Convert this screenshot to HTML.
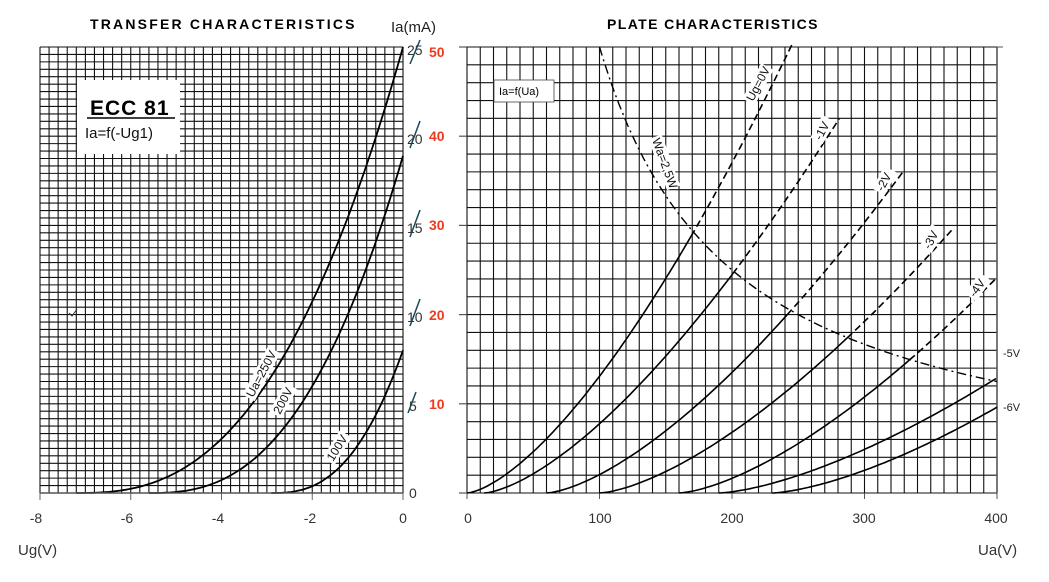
<!DOCTYPE html>
<html><head><meta charset="utf-8"><style>
body{margin:0;background:#fff;width:1049px;height:582px;overflow:hidden}
svg{display:block}
text{font-family:"Liberation Sans",sans-serif}
</style></head><body>
<svg id="s" width="1049" height="582" xmlns="http://www.w3.org/2000/svg">
<g id="g"></g>
<text x="90" y="29" font-size="14" font-weight="bold" letter-spacing="2.2">TRANSFER CHARACTERISTICS</text>
<text x="391" y="32" font-size="15" fill="#222">Ia(mA)</text>
<text x="607" y="29" font-size="14" font-weight="bold" letter-spacing="1.4">PLATE CHARACTERISTICS</text>
<rect x="77" y="80" width="103" height="74" fill="#fff"/>
<text x="90" y="115" font-size="21" font-weight="bold" letter-spacing="1">ECC 81</text>
<line x1="87" y1="118" x2="175" y2="118" stroke="#000" stroke-width="1.5"/>
<text x="85" y="138" font-size="15" fill="#111">Ia=f(-Ug1)</text>
<rect x="494" y="80" width="60" height="22" fill="#fff" stroke="#444" stroke-width="0.8"/>
<text x="499" y="95" font-size="11">Ia=f(Ua)</text>
<path d="M69,313 L72,316 L77,309" fill="none" stroke="#333" stroke-width="1"/>
<g font-size="14" fill="#333" text-anchor="middle">
<text x="36" y="523">-8</text><text x="127" y="523">-6</text><text x="218" y="523">-4</text><text x="310" y="523">-2</text><text x="403" y="523">0</text>
<text x="468" y="523">0</text><text x="600" y="523">100</text><text x="732" y="523">200</text><text x="864" y="523">300</text><text x="996" y="523">400</text>
</g>
<text x="18" y="555" font-size="15" fill="#333">Ug(V)</text>
<text x="978" y="555" font-size="15" fill="#333">Ua(V)</text>
<g font-size="14" fill="#333">
<text x="407" y="55">25</text><text x="407" y="144">20</text><text x="407" y="233">15</text><text x="407" y="322">10</text><text x="409" y="411">5</text><text x="409" y="498">0</text>
</g>
<g stroke="#1a4a5a" stroke-width="1.5">
<line x1="410" y1="64" x2="420" y2="40"/><line x1="410" y1="148" x2="420" y2="121"/><line x1="410" y1="237" x2="420" y2="210"/><line x1="410" y1="326" x2="420" y2="299"/><line x1="408" y1="413" x2="416" y2="392"/>
</g>
<g font-size="14" font-weight="bold" fill="#f03a1e">
<text x="429" y="57">50</text><text x="429" y="141">40</text><text x="429" y="230">30</text><text x="429" y="320">20</text><text x="429" y="409">10</text>
</g>
<g font-size="11" fill="#222">
<text x="1003" y="357">-5V</text><text x="1003" y="411">-6V</text>
</g>
<g id="lbl" font-size="12" fill="#111"></g>
</svg>
<script>
const g=document.getElementById('g');let h='';
function L(x1,y1,x2,y2,w,c,d){h+=`<line x1="${x1}" y1="${y1}" x2="${x2}" y2="${y2}" stroke="${c||'#111'}" stroke-width="${w||1}" ${d?`stroke-dasharray="${d}"`:''}/>`;}
const LX0=40,LX1=403,T=47,B=493;
for(let i=0;i<=40;i++){let x=LX0+(LX1-LX0)*i/40;L(x,T,x,B,1.1);}
for(let j=0;j<=60;j++){let y=T+(B-T)*j/60;L(LX0,y,LX1,y,1.1);}
for(let k=0;k<=4;k++){let x=LX0+(LX1-LX0)*k/4;L(x,B,x,B+7,1,'#666');}
const RX0=467,RX1=997;
for(let i=0;i<=40;i++){let x=RX0+(RX1-RX0)*i/40;L(x,T,x,B,1.1);}
for(let j=0;j<=25;j++){let y=T+(B-T)*j/25;L(RX0,y,RX1,y,1.1);}
L(RX1,T,RX1,B,1.5,'#555');L(RX1,T,RX1+6,T,1,'#555');
for(let k=0;k<=5;k++){let y=T+(B-T)*k/5;L(RX0-8,y,RX0,y,1.2,'#555');}
for(let k=0;k<=4;k++){let x=RX0+(RX1-RX0)*k/4;L(x,B,x,B+6,1,'#555');}
const lx=u=>LX1+u*(LX1-LX0)/8, ly=i=>B-i*(B-T)/25;
[[-7.2,25],[-5.6,18.9],[-2.9,8]].forEach(([u0,imax])=>{let p=[];for(let k=0;k<=60;k++){let u=u0-u0*k/60;let ia=imax*Math.pow((u-u0)/(-u0),2.6);p.push(lx(u).toFixed(1)+','+ly(ia).toFixed(1));}
h+=`<polyline points="${p.join(' ')}" fill="none" stroke="#000" stroke-width="1.8"/>`;});
const px=v=>RX0+v*(RX1-RX0)/400, py=i=>B-i*(B-T)/50;
const cs=[[0,0.01309,246],[13,0.00957,281],[60,0.00816,329],[100,0.0068,367],[160,0.0065,400],[190,0.00424,400],[230,0.00434,400]];
cs.forEach(([v0,k,ve])=>{let s=[],d=[];for(let n=0;n<=80;n++){let v=v0+(ve-v0)*n/80;let ia=k*Math.pow(v-v0,1.5);let pt=px(v).toFixed(1)+','+py(ia).toFixed(1);if(v<100||ia<=5000/v){s.push(pt);}else{if(!d.length&&s.length)d.push(s[s.length-1]);d.push(pt);}}
if(s.length>1)h+=`<polyline points="${s.join(' ')}" fill="none" stroke="#000" stroke-width="1.6"/>`;
if(d.length>1)h+=`<polyline points="${d.join(' ')}" fill="none" stroke="#000" stroke-width="1.6" stroke-dasharray="7,4"/>`;});
let w=[];for(let v=100;v<=400;v+=3)w.push(px(v).toFixed(1)+','+py(5000/v).toFixed(1));
h+=`<polyline points="${w.join(' ')}" fill="none" stroke="#000" stroke-width="1.4" stroke-dasharray="9,4,2,4"/>`;
L(LX0,B,LX1,B,1.5,'#555');
g.innerHTML=h;
const lb=document.getElementById('lbl');let t='';
function R(x,y,a,s,fs){t+=`<g transform="translate(${x},${y}) rotate(${a})"><rect x="-2" y="-11" width="${s.length*(fs||12)*0.6+4}" height="14" fill="#fff"/><text x="0" y="0" font-size="${fs||12}">${s}</text></g>`;}
R(253,398,-62,'Ua=250V');R(280,415,-62,'200V');R(333,462,-58,'100V');
R(753,102,-62,'Ug=0V');R(821,141,-62,'-1V');R(883,192,-62,'-2V');R(930,250,-62,'-3V');R(975,298,-55,'-4V');
R(652,140,70,'Wa=2,5W');
lb.innerHTML=t;
</script>
</body></html>
